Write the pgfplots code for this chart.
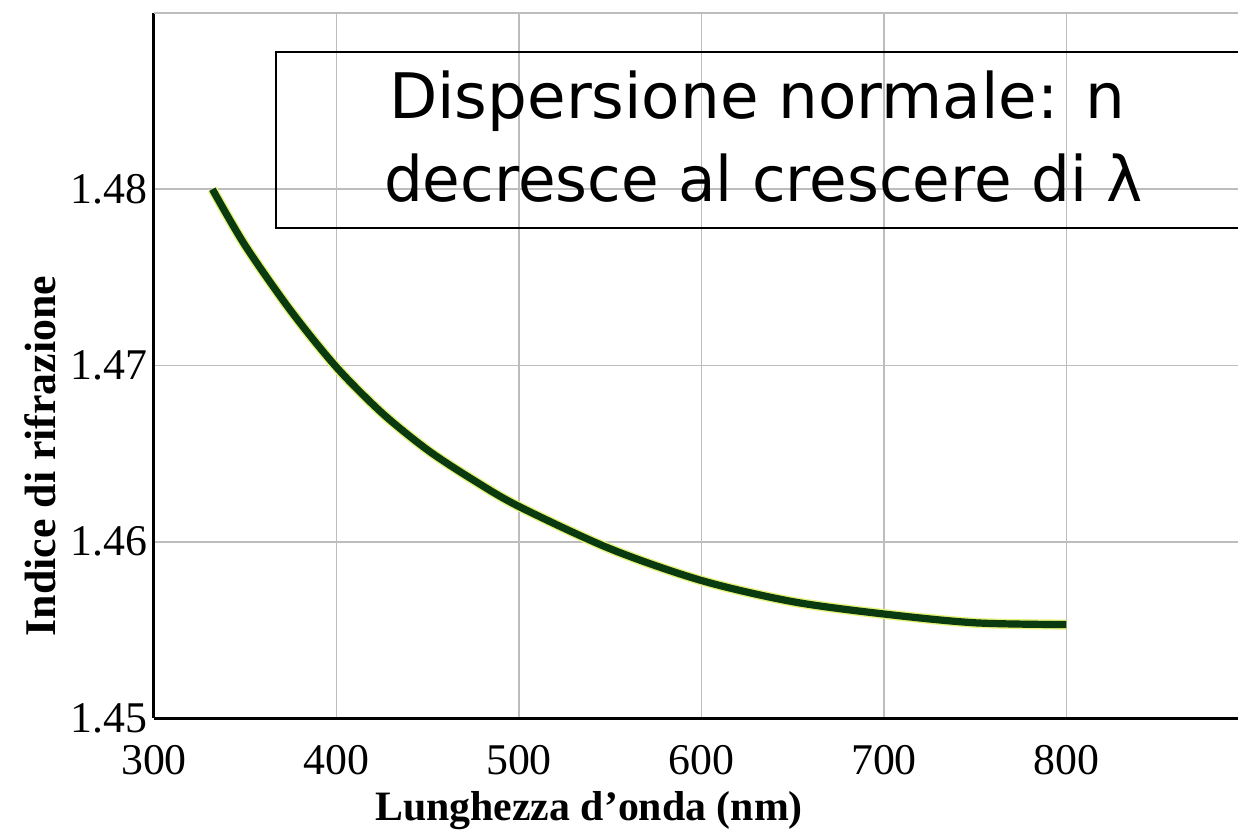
\documentclass[border=0pt]{standalone}
\usepackage{pgfplots}
\pgfplotsset{compat=1.18}
\usepackage{fontspec}
\setmainfont{Liberation Serif}
\newfontfamily\boxfont{DejaVu Sans}
\definecolor{curvegreen}{HTML}{0A3A10}
\definecolor{halo}{HTML}{E6F27A}
\definecolor{gridgray}{HTML}{BDBDBD}
\pgfplotstableread{
x y
332 1.4800
350 1.4768
375 1.4731
400 1.4699
425 1.4673
450 1.4652
475 1.4635
500 1.4620
550 1.4596
600 1.4578
650 1.4566
700 1.4559
750 1.4554
800 1.4553
}\dispersion
\begin{document}
\begin{tikzpicture}
\begin{axis}[
  name=ax,
  scale only axis,
  width=542bp, height=352.5bp,
  xmin=300, xmax=894, ymin=1.45, ymax=1.49,
  clip=false,
  axis x line*=bottom, axis y line*=left,
  axis line style={black, line width=1.5bp, -},
  xtick={300,400,500,600,700,800},
  ytick={1.45,1.46,1.47,1.48},
  extra y ticks={1.49}, extra y tick labels={},
  grid=major,
  major grid style={gridgray, line width=0.8bp},
  tick style={draw=none},
  /pgf/number format/assume math mode=true,
  tick label style={font=\fontsize{22}{22}\selectfont},
  xticklabel style={yshift=-10bp},
  yticklabel style={/pgf/number format/fixed, /pgf/number format/fixed zerofill, /pgf/number format/precision=2},
  x tick label style={/pgf/number format/1000 sep={}},
]
\addplot[smooth, line width=5bp, color=halo] table {\dispersion};
\addplot[smooth, line width=3.6bp, color=curvegreen] table {\dispersion};
\draw[line width=1bp] (axis cs:894,1.4778) -- (axis cs:366.8,1.4778) -- (axis cs:366.8,1.4878) -- (axis cs:894,1.4878);
\node[anchor=base, font=\boxfont\fontsize{31.5}{36}\selectfont] at (axis cs:630.4,1.4840) {Dispersione normale: n};
\node[anchor=base, font=\boxfont\fontsize{31.5}{36}\selectfont] at (axis cs:634,1.4793) {\scalebox{0.975}[1]{decresce al crescere di λ}};
\node[anchor=base, font=\bfseries\fontsize{21}{21}\selectfont] at (axis cs:538.4,1.44421) {Lunghezza d’onda (nm)};
\node[anchor=base, rotate=90, font=\bfseries\fontsize{22}{22}\selectfont] at (axis cs:246.3,1.46487) {Indice di rifrazione};
\end{axis}
\pgfresetboundingbox
\path ([xshift=-77bp,yshift=-57bp]ax.south west) rectangle ([yshift=6.5bp]ax.north east);
\end{tikzpicture}
\end{document}
